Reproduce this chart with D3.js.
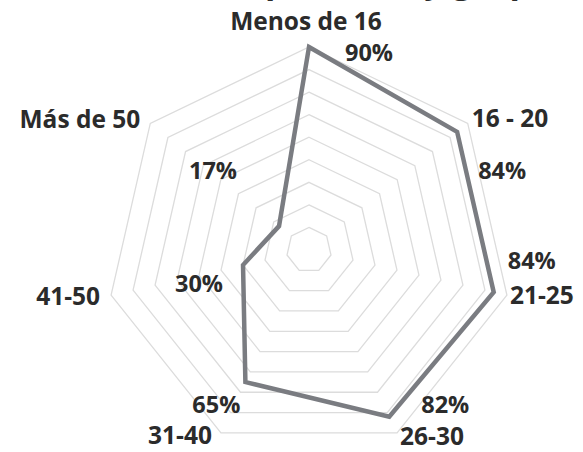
<!DOCTYPE html>
<html>
<head>
<meta charset="utf-8">
<script src="https://cdn.jsdelivr.net/npm/d3@7"></script>
<style>
  body { margin: 0; background: #fff; }
  text { font-family: "Open Sans", Lato, sans-serif; font-weight: 700; fill: #2b2b2b; }
</style>
</head>
<body>
<div id="chart"></div>
<script>
// data
var categories = ["Menos de 16", "16 - 20", "21-25", "26-30", "31-40", "41-50", "Más de 50"]
var values = [90, 84, 84, 82, 65, 30, 17]
var gridLevels = [10, 20, 30, 40, 50, 60, 70, 80, 90]

// label layout (offsets from outer vertex / data point)
var catLayout = [
  { anchor: "middle", dx: -3, dy: -27 },
  { anchor: "start", dx: 4, dy: -6 },
  { anchor: "start", dx: 3, dy: -1 },
  { anchor: "start", dx: 3, dy: 3 },
  { anchor: "end", dx: -9, dy: 2 },
  { anchor: "end", dx: -11, dy: 0 },
  { anchor: "end", dx: -10, dy: -5 }
]
var valLayout = [
  { anchor: "start", dx: 36, dy: 5 },
  { anchor: "start", dx: 21, dy: 38 },
  { anchor: "start", dx: 14, dy: -32 },
  { anchor: "start", dx: 32, dy: -13 },
  { anchor: "end", dx: -5, dy: 22 },
  { anchor: "end", dx: -20, dy: 18 },
  { anchor: "end", dx: -42, dy: -56 }
]

var width = 583, height = 452
var cx = 309, cy = 250

var svg = d3.select("#chart")
  .append("svg")
  .attr("width", width)
  .attr("height", height)

// title, cut off at the top edge (only descenders show)
svg.append("text")
  .attr("x", 552)
  .attr("y", -7)
  .attr("text-anchor", "end")
  .style("font-size", "34px")
  .text("Distribución por edad y grupo")

var g = svg.append("g")
  .attr("transform", `translate(${cx},${cy})`)

var rScale = d3.scaleLinear()
  .domain([0, 90])
  .range([0, 203])

var angle = d3.scaleLinear()
  .domain([0, categories.length])
  .range([0, 2 * Math.PI])

function pt(i, v) {
  var a = angle(i), r = rScale(v)
  return [r * Math.sin(a), -r * Math.cos(a)]
}

var radial = d3.lineRadial()
  .angle((d, i) => angle(i))
  .radius(d => rScale(d))
  .curve(d3.curveLinearClosed)

// rings
g.append("g")
  .attr("class", "grid")
  .selectAll("path")
  .data(gridLevels)
  .enter()
  .append("path")
  .attr("d", lvl => radial(categories.map(() => lvl)))
  .attr("fill", "none")
  .style("stroke", "#dcdcdc")
  .style("stroke-width", 1.3)

// data line
g.append("path")
  .datum(values)
  .attr("d", radial)
  .attr("fill", "none")
  .style("stroke", "#7a7c81")
  .style("stroke-width", 4.5)
  .style("stroke-linejoin", "miter")

// category labels
g.selectAll(".cat")
  .data(categories)
  .enter()
  .append("text")
  .attr("class", "cat")
  .attr("x", (d, i) => pt(i, 90)[0] + catLayout[i].dx)
  .attr("y", (d, i) => pt(i, 90)[1] + catLayout[i].dy)
  .attr("text-anchor", (d, i) => catLayout[i].anchor)
  .attr("dominant-baseline", "central")
  .style("font-size", "24.5px")
  .text(d => d)

// value labels
g.selectAll(".val")
  .data(values)
  .enter()
  .append("text")
  .attr("class", "val")
  .attr("x", (d, i) => pt(i, d)[0] + valLayout[i].dx)
  .attr("y", (d, i) => pt(i, d)[1] + valLayout[i].dy)
  .attr("text-anchor", (d, i) => valLayout[i].anchor)
  .attr("dominant-baseline", "central")
  .style("font-size", "23.5px")
  .text(d => d + "%")
</script>
</body>
</html>
